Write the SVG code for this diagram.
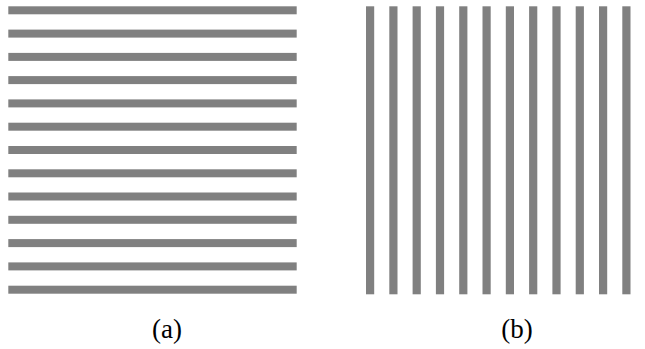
<svg xmlns="http://www.w3.org/2000/svg" width="645" height="349" viewBox="0 0 645 349">
<style>
.bar{fill:#808080}
.lbl{font-family:"Liberation Serif","DejaVu Serif",serif;font-size:27px;fill:#000;text-anchor:middle}
</style>
<rect width="645" height="349" fill="#fff"/>
<g id="panel-a">
<rect class="bar" x="8.3" y="6.3" width="288.4" height="8"/>
<rect class="bar" x="8.3" y="29.6" width="288.4" height="8"/>
<rect class="bar" x="8.3" y="52.9" width="288.4" height="8"/>
<rect class="bar" x="8.3" y="76.1" width="288.4" height="8"/>
<rect class="bar" x="8.3" y="99.4" width="288.4" height="8"/>
<rect class="bar" x="8.3" y="122.7" width="288.4" height="8"/>
<rect class="bar" x="8.3" y="146.0" width="288.4" height="8"/>
<rect class="bar" x="8.3" y="169.3" width="288.4" height="8"/>
<rect class="bar" x="8.3" y="192.5" width="288.4" height="8"/>
<rect class="bar" x="8.3" y="215.8" width="288.4" height="8"/>
<rect class="bar" x="8.3" y="239.1" width="288.4" height="8"/>
<rect class="bar" x="8.3" y="262.4" width="288.4" height="8"/>
<rect class="bar" x="8.3" y="285.7" width="288.4" height="8"/>
</g>
<g id="panel-b">
<rect class="bar" x="366.0" y="6.3" width="8.2" height="288"/>
<rect class="bar" x="389.3" y="6.3" width="8.2" height="288"/>
<rect class="bar" x="412.6" y="6.3" width="8.2" height="288"/>
<rect class="bar" x="435.9" y="6.3" width="8.2" height="288"/>
<rect class="bar" x="459.2" y="6.3" width="8.2" height="288"/>
<rect class="bar" x="482.5" y="6.3" width="8.2" height="288"/>
<rect class="bar" x="505.8" y="6.3" width="8.2" height="288"/>
<rect class="bar" x="529.1" y="6.3" width="8.2" height="288"/>
<rect class="bar" x="552.4" y="6.3" width="8.2" height="288"/>
<rect class="bar" x="575.7" y="6.3" width="8.2" height="288"/>
<rect class="bar" x="599.0" y="6.3" width="8.2" height="288"/>
<rect class="bar" x="622.3" y="6.3" width="8.2" height="288"/>
</g>
<g id="labels">
<text class="lbl" x="167" y="338">(a)</text>
<text class="lbl" x="517" y="338">(b)</text>
</g>
</svg>
